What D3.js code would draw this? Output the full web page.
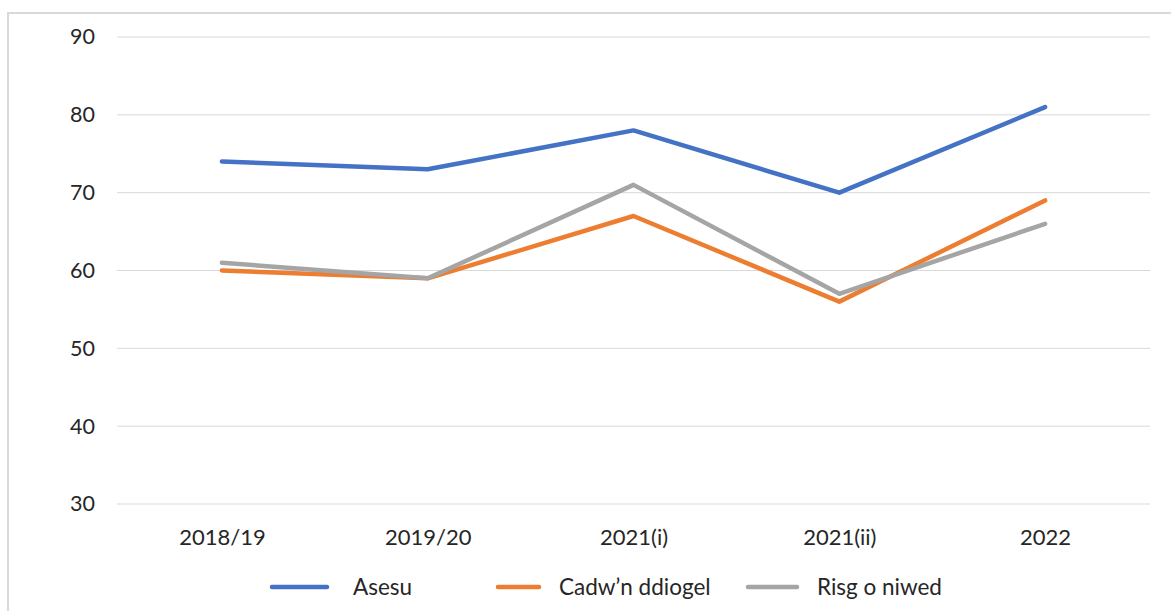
<!DOCTYPE html>
<html>
<head>
<meta charset="utf-8">
<script src="https://cdn.jsdelivr.net/npm/d3@7"></script>
<style>
  html, body { margin: 0; padding: 0; background: #fff; }
  svg { display: block; font-family: Lato, "Open Sans", sans-serif; }
</style>
</head>
<body>
<svg id="chart" width="1171" height="611"></svg>
<script>
const categories = ["2018/19", "2019/20", "2021(i)", "2021(ii)", "2022"];
const asesu = [74, 73, 78, 70, 81];
const cadwnDdiogel = [60, 59, 67, 56, 69];
const risgONiwed = [61, 59, 71, 57, 66];
const yTicks = [30, 40, 50, 60, 70, 80, 90];

const series = [
  { name: "Asesu", values: asesu, color: "#4472C4" },
  { name: "Cadw\u2019n ddiogel", values: cadwnDdiogel, color: "#ED7D31" },
  { name: "Risg o niwed", values: risgONiwed, color: "#A5A5A5" }
];

const svg = d3.select("#chart");
const textColor = "#262626";

// outer frame
svg.append("rect")
  .attr("x", 8).attr("y", 13)
  .attr("width", 1175).attr("height", 610)
  .attr("fill", "none").attr("stroke", "#d9d9d9").attr("stroke-width", 2);

const plot = { left: 119, right: 1148, top: 37, bottom: 504 };

const x = d3.scalePoint().domain(categories).range([plot.left, plot.right]).padding(0.5);
const y = d3.scaleLinear().domain([30, 90]).range([plot.bottom, plot.top]);

// gridlines
svg.append("g")
  .selectAll("line")
  .data(yTicks)
  .join("line")
  .attr("x1", 117).attr("x2", 1150)
  .attr("y1", d => y(d)).attr("y2", d => y(d))
  .attr("stroke", "#d9d9d9").attr("stroke-width", 1);

// y axis labels
const yAxis = d3.axisLeft(y).tickValues(yTicks).tickSize(0).tickPadding(0);
svg.append("g")
  .attr("transform", `translate(95,0)`)
  .call(yAxis)
  .call(g => g.select(".domain").remove())
  .call(g => g.selectAll("text")
    .attr("font-family", "Lato, 'Open Sans', sans-serif")
    .attr("font-size", 21.5).attr("fill", textColor));

// x axis labels
const xAxis = d3.axisBottom(x).tickSize(0).tickPadding(0);
svg.append("g")
  .attr("transform", `translate(0,${plot.bottom + 25})`)
  .call(xAxis)
  .call(g => g.select(".domain").remove())
  .call(g => g.selectAll("text")
    .attr("font-family", "Lato, 'Open Sans', sans-serif")
    .attr("font-size", 22).attr("fill", textColor));

// lines
const line = d3.line()
  .x((d, i) => x(categories[i]))
  .y(d => y(d));

svg.append("g")
  .selectAll("path")
  .data(series)
  .join("path")
  .attr("d", d => line(d.values))
  .attr("fill", "none")
  .attr("stroke", d => d.color)
  .attr("stroke-width", 4.5)
  .attr("stroke-linejoin", "round")
  .attr("stroke-linecap", "round");

// legend
const legendX = [272, 498, 748];
const legendY = 587;
const legend = svg.append("g")
  .selectAll("g")
  .data(series)
  .join("g")
  .attr("transform", (d, i) => `translate(${legendX[i]},${legendY})`);

legend.append("line")
  .attr("x1", 0).attr("x2", (d, i) => i === 0 ? 55 : (i === 1 ? 41 : 49))
  .attr("y1", 0).attr("y2", 0)
  .attr("stroke", d => d.color)
  .attr("stroke-width", 4.5)
  .attr("stroke-linecap", "round");

legend.append("text")
  .attr("x", (d, i) => [81, 61, 69][i])
  .attr("y", 0)
  .attr("dy", "0.35em")
  .attr("font-size", 22.5)
  .attr("fill", textColor)
  .text(d => d.name);
</script>
</body>
</html>
